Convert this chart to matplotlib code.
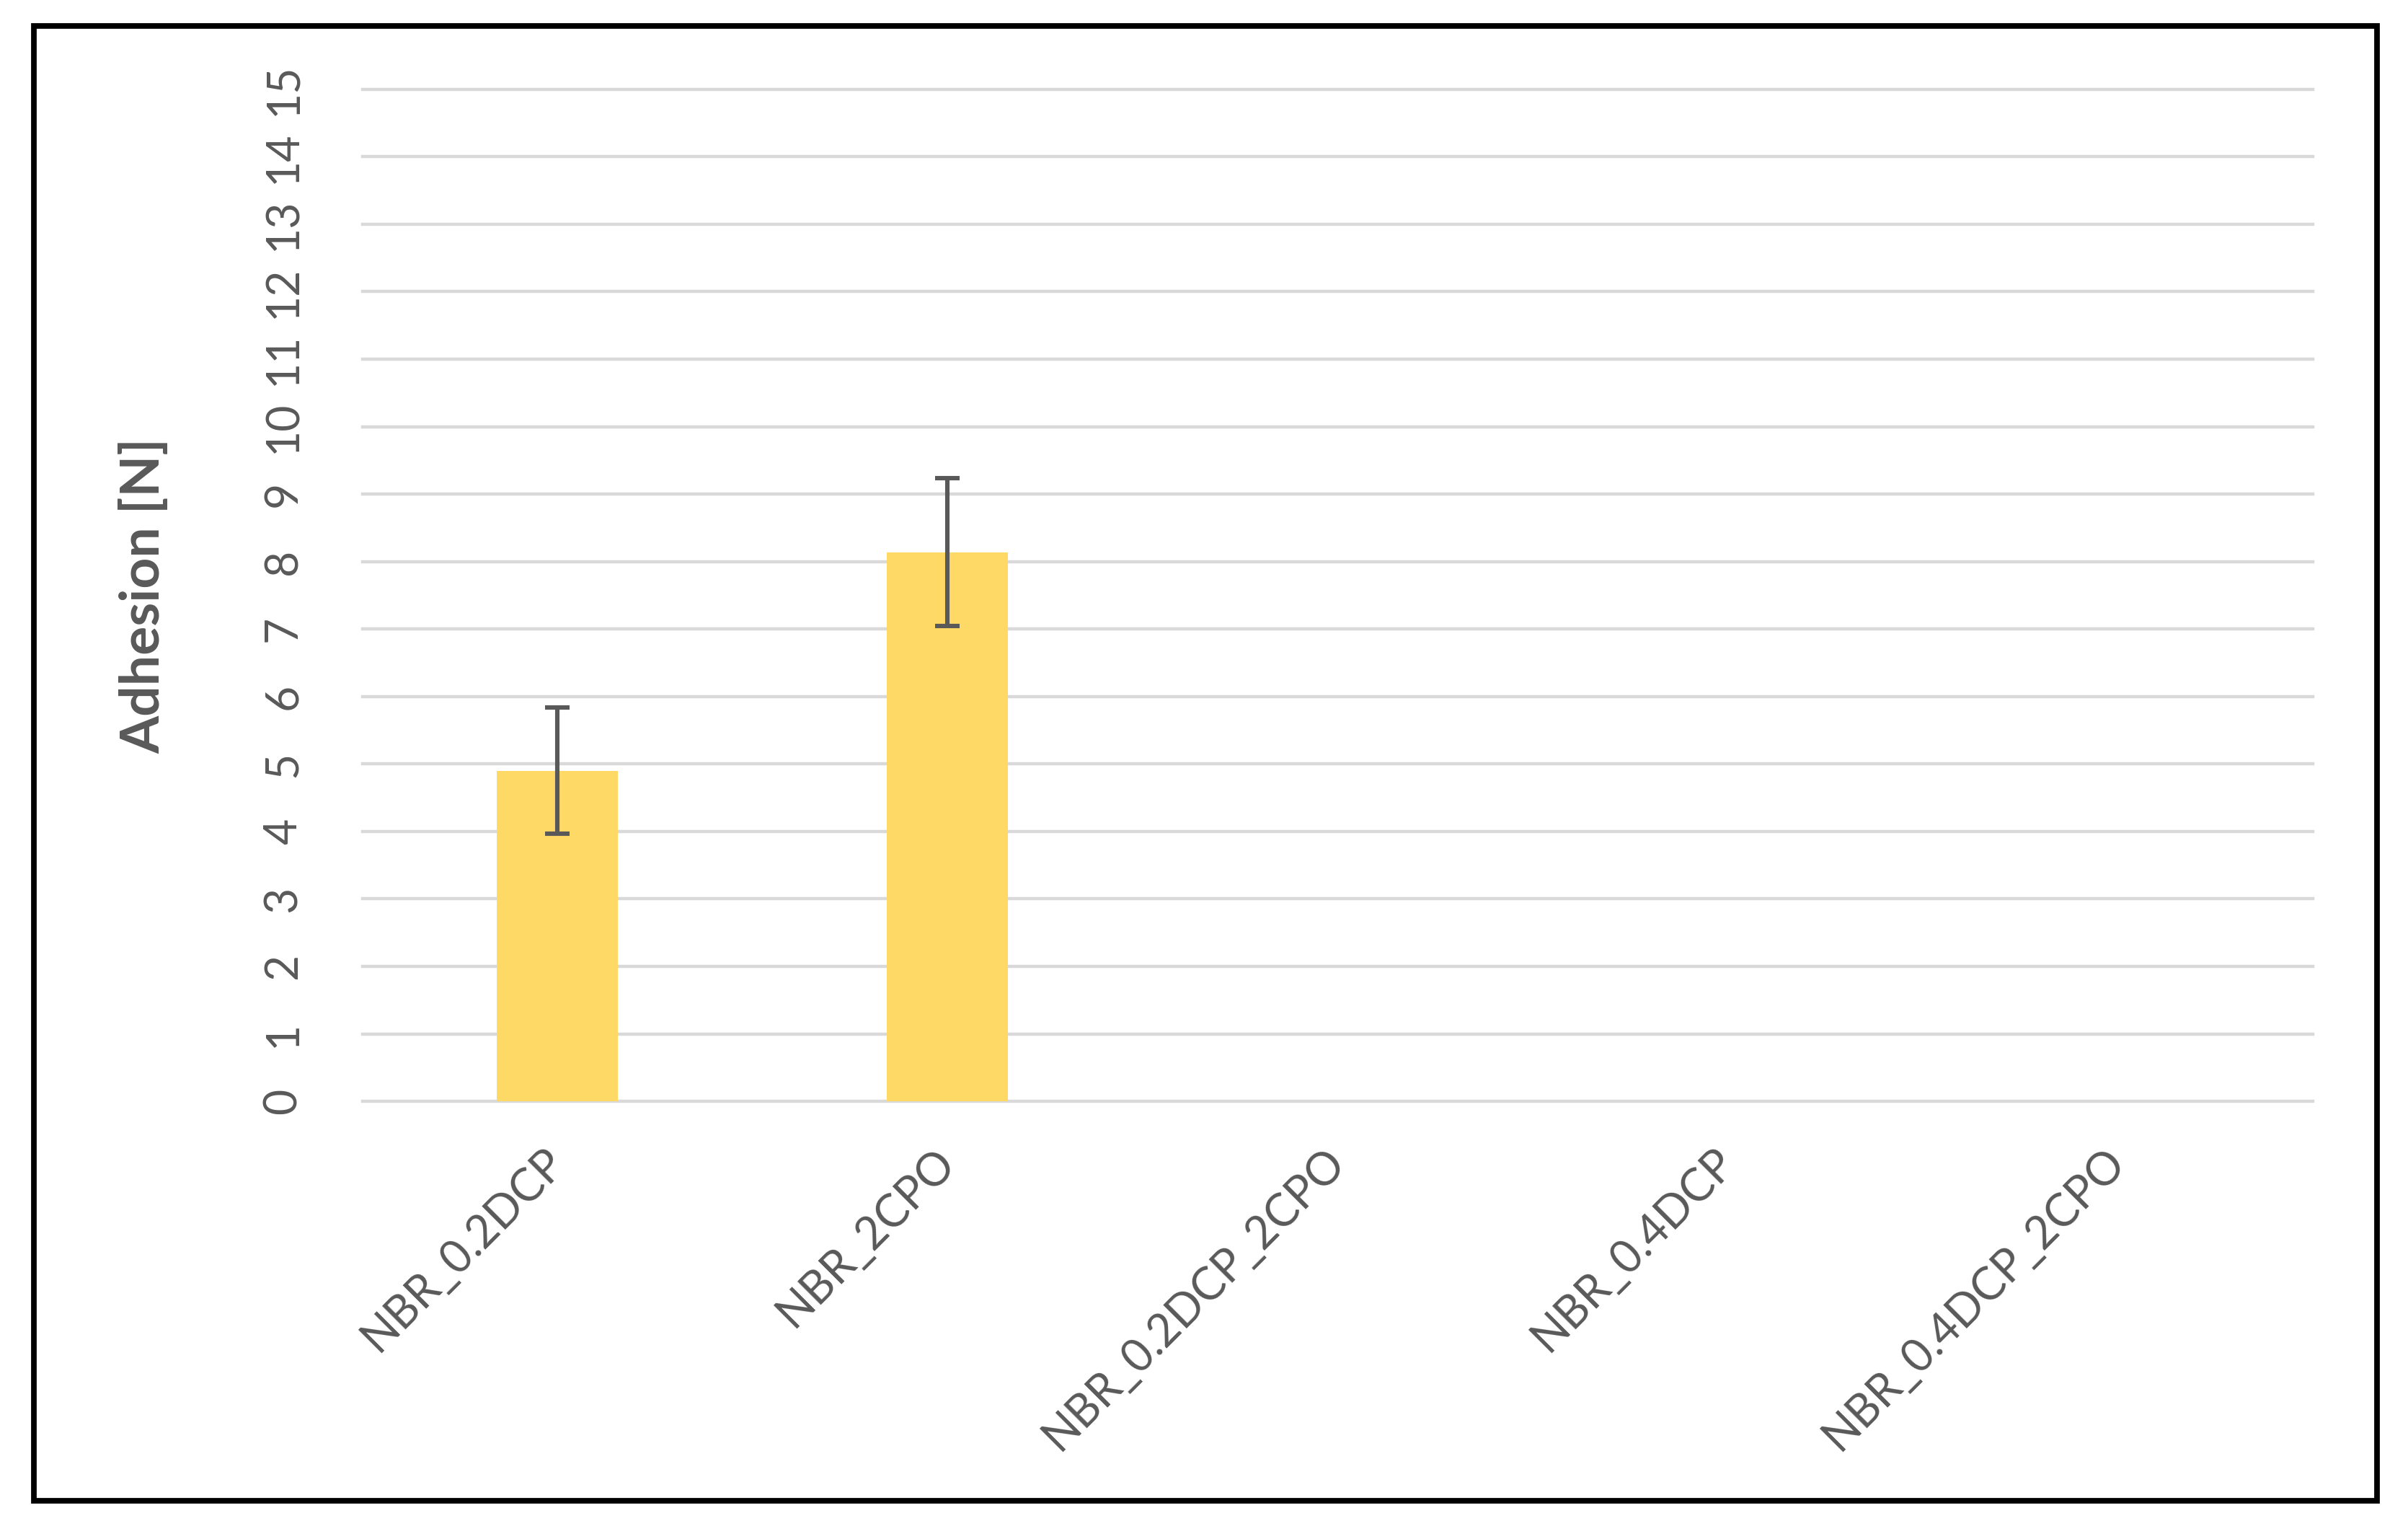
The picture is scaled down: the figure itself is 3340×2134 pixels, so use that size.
import numpy as np
import matplotlib
matplotlib.use('Agg')
import matplotlib.pyplot as plt
from matplotlib.patches import Rectangle

plt.rcParams['font.family'] = ['Lato', 'DejaVu Sans']

# Dane
categories = ['NBR_0.2DCP', 'NBR_2CPO', 'NBR_0.2DCP_2CPO', 'NBR_0.4DCP', 'NBR_0.4DCP_2CPO']
adhesion = [4.90, 8.14, np.nan, np.nan, np.nan]
adhesion_err = [0.935, 1.095, np.nan, np.nan, np.nan]
y_ticks = list(range(0, 16))

text_color = '#595959'

fig = plt.figure(figsize=(16.7, 10.67), dpi=200)
ax = fig.add_axes([0.1505, 0.2844, 0.81, 0.6576])

x = np.arange(len(categories))
ax.bar(x, adhesion, width=0.31, color='#FFD966', zorder=3)
ax.errorbar(x, adhesion, yerr=adhesion_err, fmt='none', ecolor=text_color,
            elinewidth=2.2, capsize=6, capthick=2.2, zorder=4)

ax.set_xlim(-0.5, len(categories) - 0.5)
ax.set_ylim(0, 15)
ax.set_yticks(y_ticks)
ax.set_yticklabels([str(t) for t in y_ticks], rotation=90, va='center')
ax.set_xticks(x)
ax.set_xticklabels(categories, rotation=45, ha='right', va='center', rotation_mode='anchor')

ax.tick_params(axis='y', length=0, pad=29, labelsize=22.5, labelcolor=text_color)
ax.tick_params(axis='x', length=0, pad=27, labelsize=22.5, labelcolor=text_color)

for s in ax.spines.values():
    s.set_visible(False)
ax.grid(axis='y', color='#D9D9D9', linewidth=1.6, zorder=0)
ax.set_axisbelow(True)
for gl in ax.get_ygridlines():
    gl.set_clip_on(False)

fig.text(200 / 3340, 0.613, 'Adhesion [N]', rotation=90, ha='center', va='center',
         fontsize=27, fontweight='bold', color=text_color)

# Ramka wokol wykresu
fig.patches.append(Rectangle((0.0141, 0.025), 0.9729, 0.958, transform=fig.transFigure,
                             fill=False, edgecolor='black', linewidth=2.8))

plt.savefig('out.png', dpi=200)
